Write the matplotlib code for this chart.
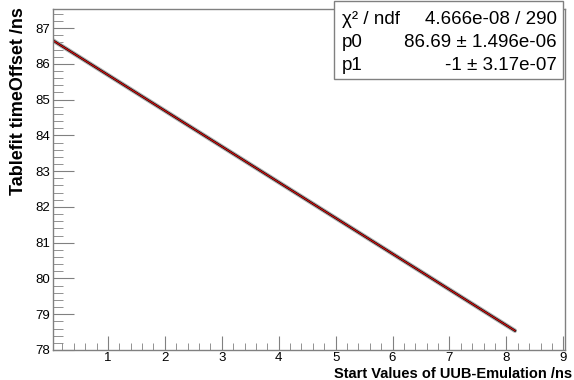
import numpy as np
import matplotlib.pyplot as plt
from matplotlib.ticker import MultipleLocator

plt.rcParams['font.family'] = ['Liberation Sans', 'DejaVu Sans']

# graph points (start value, fitted offset) and fit results
x_first, x_last, n_points = 0.03, 8.15, 292
p0 = 86.69
p1 = -1.0
stat_labels = ['χ² / ndf', 'p0', 'p1']
stat_values = ['4.666e-08 / 290', '86.69 ± 1.496e-06', '-1 ± 3.17e-07']

x_vals = np.linspace(x_first, x_last, n_points)
y_vals = p0 + p1 * x_vals

fig = plt.figure(figsize=(5.74, 3.8), dpi=100)
ax = fig.add_axes([0.0923, 0.079, 0.892, 0.897])

ax.plot(x_vals, y_vals, color='#b0b0b0', lw=3.2, solid_capstyle='round')
ax.plot(x_vals, y_vals, color='black', lw=1.6)
ax.plot(x_vals, y_vals, color='#d01010', lw=0.9)

ax.set_xlim(0.035, 9.03)
ax.set_ylim(78.0, 87.53)
ax.xaxis.set_major_locator(MultipleLocator(1))
ax.xaxis.set_minor_locator(MultipleLocator(0.2))
ax.yaxis.set_major_locator(MultipleLocator(1))
ax.yaxis.set_minor_locator(MultipleLocator(0.2))
ax.set_xticks([1, 2, 3, 4, 5, 6, 7, 8, 9])

frame_col = '#808080'
for s in ax.spines.values():
    s.set_color(frame_col)
    s.set_linewidth(1.0)
ax.tick_params(which='both', direction='in', colors=frame_col, labelcolor='black',
               labelsize=9.5, top=False, right=False)
ax.tick_params(axis='y', which='major', length=15, pad=2)
ax.tick_params(axis='y', which='minor', length=7)
ax.tick_params(axis='x', which='major', length=10, pad=1.5)
ax.tick_params(axis='x', which='minor', length=5)

fig.text(572 / 574, 1 - 378 / 380, 'Start Values of UUB-Emulation /ns',
         fontsize=10.5, fontweight='bold', ha='right', va='baseline')
fig.text(19 / 574, 1 - 7 / 380, 'Tablefit timeOffset /ns', fontsize=13,
         fontweight='bold', rotation=90, ha='center', va='top')

# stats box
bx0, by0, bw, bh = 334 / 574, 1 - 79 / 380, (563 - 334) / 574, 78 / 380
fig.patches.append(plt.Rectangle((bx0, by0), bw, bh, transform=fig.transFigure,
                                 facecolor='white', edgecolor=frame_col, lw=1.0))
for i, (lab, val) in enumerate(zip(stat_labels, stat_values)):
    yy = 1 - (19 + 23.5 * i) / 380
    fig.text(342 / 574, yy, lab, fontsize=13.5, va='center', ha='left')
    fig.text(557 / 574, yy, val, fontsize=13.5, va='center', ha='right')

fig.savefig('out.png', dpi=100)
